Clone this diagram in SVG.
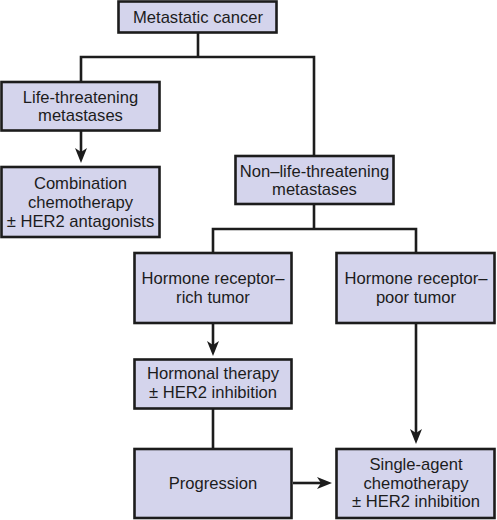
<svg xmlns="http://www.w3.org/2000/svg" width="497" height="520" viewBox="0 0 497 520">
<style>
.box{fill:#d4d4ec;stroke:#1c1c1c;stroke-width:2.6}
.t{font-family:"Liberation Sans",Arial,sans-serif;font-size:16.6px;fill:#1c1c1c;text-anchor:middle}
.c{fill:none;stroke:#1c1c1c;stroke-width:2.6}
</style>
<defs>
<marker id="ah" viewBox="0 0 15 12" refX="4" refY="6" markerWidth="15" markerHeight="12" markerUnits="userSpaceOnUse" orient="auto">
<path d="M0,0 L15,6 L0,12 L4,6 Z" fill="#1c1c1c"/>
</marker>
</defs>
<rect width="497" height="520" fill="#ffffff"/>
<g id="connectors">
<path class="c" d="M198,33 V57"/>
<path class="c" d="M81,81 V57 H314 V155"/>
<path class="c" d="M81,131 V152" marker-end="url(#ah)"/>
<path class="c" d="M314,205 V229"/>
<path class="c" d="M213,252 V229 H416 V252"/>
<path class="c" d="M213,324 V345" marker-end="url(#ah)"/>
<path class="c" d="M213,409 V448"/>
<path class="c" d="M416,324 V433" marker-end="url(#ah)"/>
<path class="c" d="M293,483 H321" marker-end="url(#ah)"/>
</g>
<g id="metastatic">
<rect class="box" x="118.5" y="1.5" width="158" height="31"/>
<text class="t" x="198" y="23">Metastatic cancer</text>
</g>
<g id="life">
<rect class="box" x="1.5" y="82" width="158" height="48.5"/>
<text class="t" x="80.5" y="103">Life-threatening</text>
<text class="t" x="80.5" y="121">metastases</text>
</g>
<g id="combination">
<rect class="box" x="1.5" y="167" width="158" height="70"/>
<text class="t" x="80.5" y="189">Combination</text>
<text class="t" x="80.5" y="208">chemotherapy</text>
<text class="t" x="80.5" y="227">± HER2 antagonists</text>
</g>
<g id="nonlife">
<rect class="box" x="235.5" y="156" width="158" height="48"/>
<text class="t" x="314.5" y="177">Non–life-threatening</text>
<text class="t" x="314.5" y="195">metastases</text>
</g>
<g id="rich">
<rect class="box" x="134.5" y="253" width="157" height="70"/>
<text class="t" x="213" y="284">Hormone receptor–</text>
<text class="t" x="213" y="302.5">rich tumor</text>
</g>
<g id="poor">
<rect class="box" x="336.5" y="253" width="158" height="70"/>
<text class="t" x="416" y="284">Hormone receptor–</text>
<text class="t" x="416" y="302.5">poor tumor</text>
</g>
<g id="hormonal">
<rect class="box" x="134.5" y="359.5" width="157" height="49"/>
<text class="t" x="213" y="379">Hormonal therapy</text>
<text class="t" x="213" y="398">± HER2 inhibition</text>
</g>
<g id="progression">
<rect class="box" x="134.5" y="449" width="157" height="69"/>
<text class="t" x="213" y="489">Progression</text>
</g>
<g id="single">
<rect class="box" x="336.5" y="449" width="158" height="69"/>
<text class="t" x="416" y="470">Single-agent</text>
<text class="t" x="416" y="488.5">chemotherapy</text>
<text class="t" x="416" y="507">± HER2 inhibition</text>
</g>
</svg>
